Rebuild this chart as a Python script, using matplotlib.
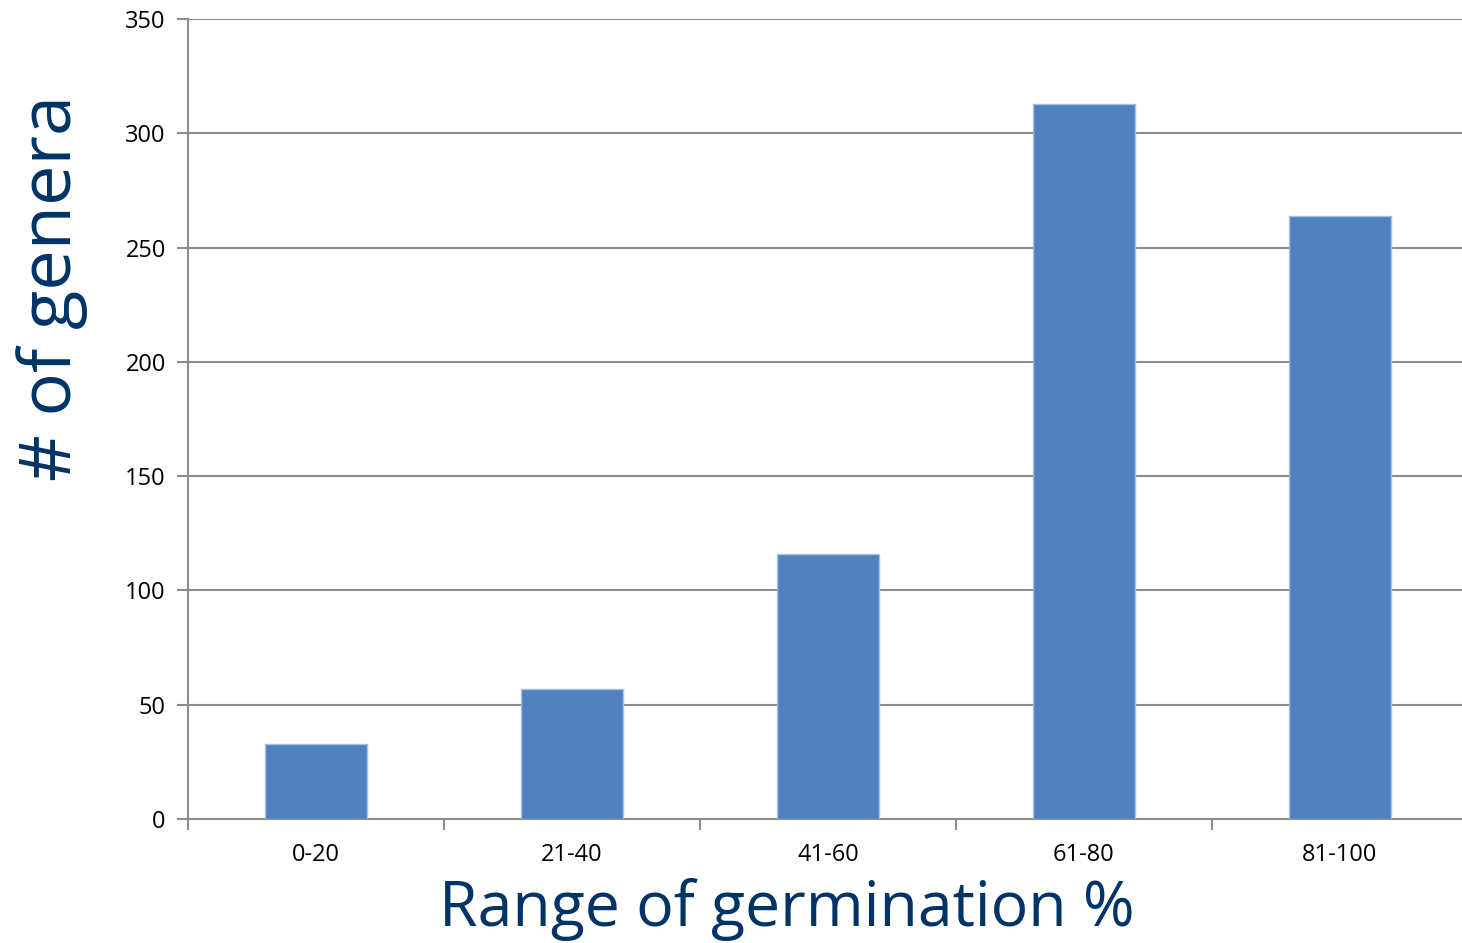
import matplotlib
matplotlib.use("Agg")
import matplotlib.pyplot as plt
import numpy as np

categories = ["0-20", "21-40", "41-60", "61-80", "81-100"]
values = [33, 57, 116, 313, 264]
yticks = [0, 50, 100, 150, 200, 250, 300, 350]

fig = plt.figure(figsize=(14.62, 9.43), dpi=100)
ax = fig.add_axes([188/1462, 124/943, 1280/1462, 800/943])

x = np.arange(len(categories))
ax.bar(x, values, width=0.4, color="#4f81bd", edgecolor="#a7c0e0", linewidth=1, zorder=3)

ax.set_xlim(-0.5, len(categories) - 0.5)
ax.set_ylim(0, 350)
ax.set_yticks(yticks)
ax.yaxis.grid(True, color="#8c8c8c", linewidth=1.5, zorder=0)
ax.set_xticks(x)
ax.set_xticklabels(categories, fontsize=17, family="Open Sans")
ax.set_yticklabels([str(v) for v in yticks], fontsize=17, family="Open Sans")
ax.tick_params(axis="x", length=0, pad=17)
ax.tick_params(axis="y", length=8, width=1.5, color="#8c8c8c", pad=8)
# category boundary ticks
ax.set_xticks(np.arange(len(categories) + 1) - 0.5, minor=True)
ax.tick_params(axis="x", which="minor", length=8, width=1.5, color="#8c8c8c")

for s in ["top", "right"]:
    ax.spines[s].set_visible(False)
ax.spines["left"].set_color("#8c8c8c")
ax.spines["left"].set_linewidth(1.5)
ax.spines["bottom"].set_color("#8c8c8c")
ax.spines["bottom"].set_linewidth(1.5)

ax.set_xlabel("Range of germination %", fontsize=45, color="#003366", family="Open Sans")
ax.xaxis.label.set_va("baseline")
ax.xaxis.set_label_coords((787 - 188) / 1280, (819 - 926) / 800)
ax.set_ylabel("# of genera", fontsize=52, color="#003366", family="Open Sans")
ax.yaxis.set_label_coords((88 - 188) / 1280, (819 - 288) / 800)

fig.savefig("out.png", dpi=100)
